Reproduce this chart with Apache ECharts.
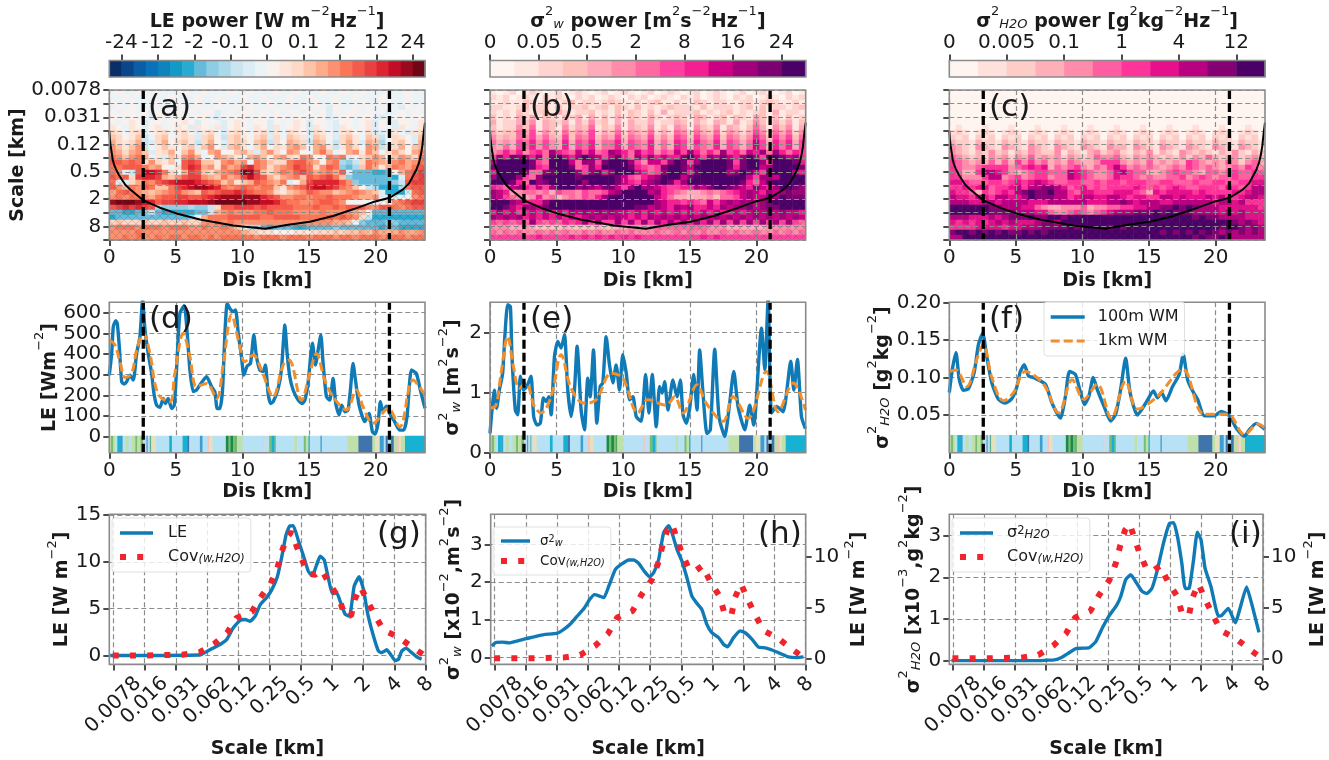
<!DOCTYPE html>
<html><head><meta charset="utf-8"><style>html,body{margin:0;background:#fff}#c{width:1329px;height:760px}</style>
<script src="https://cdn.jsdelivr.net/npm/echarts@6/dist/echarts.min.js"></script></head><body><div id="c"></div>
<script>
const colorsA=['#0a2f66','#09468a','#0a5ea6','#0a72b8','#0d84bd','#119ac6','#27abd0','#66bbdb','#8fcde5','#abd9ea','#c8e5f1','#dcedf5','#ecf3f7','#f9f1ee','#fee5d9','#fdd9c6','#fdc4a8','#fdac8a','#fb9170','#fb7557','#f45b4b','#e8413f','#dc2530','#c30d25','#9a0a1f','#6f0515'];
const colorsB=['#fff5f0','#ffe7e2','#ffd3cf','#ffc2ba','#ffaabb','#ff8cab','#ff6aa0','#ff42a0','#f41f92','#cc0085','#a00079','#7c0072','#4b0068'];
const colorsC=['#fff5f0','#ffe1dc','#ffcdc8','#ffafb7','#ff8cab','#ff5fa2','#ff349a','#e6108c','#b80080','#840073','#4b0068'];
const barTicksA=[[1,'-24'],[4,'-12'],[7,'-2'],[10,'-0.1'],[13,'0'],[16,'0.1'],[19,'2'],[22,'12'],[25,'24']];
const barTicksB=[[0,'0'],[2,'0.05'],[4,'0.5'],[6,'2'],[8,'8'],[10,'16'],[12,'24']];
const barTicksC=[[0,'0'],[2,'0.005'],[4,'0.1'],[6,'1'],[8,'4'],[10,'12']];
const heatYLabels=['0.0078','','0.031','','0.12','','0.5','','2','','8',''];
const scaleLabels=['0.0078','0.016','0.031','0.062','0.12','0.25','0.5','1','2','4','8'];

const heatA=[
"MNMMNMMNMMMNMMNMMMNMMNMMMNMMNMMMNMMNMMNMMMNMMNMM",
"MMNMMMNMMNMMMNMMNMMMNMMNMMMNMMNMMMNMMNMMMNMMMNMM",
"NMMNMMMNMMNMMNMMMNMMNMMMNMMNMMMNMMNMMMNMMNMMMNMM",
"MNMNMMNMNMMNMNMMNMMNMNMMNMNMMNMNMLNMMNMNMMNMLNMN",
"NMNNMNLNMNNMNMNNLMNMNNMNMNMNNMNMNLNMNNMNMNLMNMNM",
"NNMNNMLNNMNNMNNMLNMNNMNNMNNMNNMNNLMNNMNNMLMNNMNN",
"NMNONLNNMNNONLNNMLNONMNNLNMNONLNNMLNNMNOLNMLNNMO",
"ONMONLNOMNONLONMOLNONMONLOMNONLONMLONMNOLNMLONMO",
"POMOPLNOPMOPNLOPMLOPNMOPLOMPONLPOMLOPNMPLLNOMLOP",
"QPNOQKMPQNOPOLPQNKPQONPQLPMQPOLQPNLPQOMQPKMPONLQ",
"RPOPRKLPRNPQOKPRNLPQPMQRKPNRQPKRQMKPROLRQJMPQNLR",
"SQOQSKMOQONPQLQSNLQROMPRMPORSQMRSOKORPMSRKOPRNQR",
"SRPRSQLOPRNQSOMRSNNQRPLQSPNSRNMRTQMNRSOSQMPRPNRS",
"TSQSTRMOLQOSTRMNSRQOMRSQNRSPOTSNMTSTLMPQSRNQSRPT",
"UUTUTPSPOQMUVUQQOSTRSMTSQPPTUUSRNSTJIKPTSRQSTRST",
"TTUUUTRSNMPUWVRSOTRSVWTSPRSTVUTPSUTIHJQTRORTSRTU",
"TSLKUXXWTPNRVUQPRSTUZYVQPRTSUVTRSTRULHHHGGHNRTUV",
"UTUPVWWVRQSUVVSRQTRSVXVURPRSTQUTUVTQIHHHHHHGLTUV",
"TLLPRTSUVWXXXWVUTQSOQRUTSRTLNRVWWWWUSIHHHHHIKUVV",
"USQTSUTQQTVWXYYXWTSTUTSTTQOSTUWXXWVTSQNKJGGGJTUU",
"RTUTSRQRSTUSRQUTUVVWVUTTSPOQRSUTSSQRSTSRQLGGGLTU",
"STSTTSRTUUVVUUVWXYYYYYYWVUSSTTSTTUTTTSRRSLLLMNST",
"YZZZYXWUVVWWXXXYZZZZZYYXXWUTTSSTUUTSNMNMMNOSTUVV",
"UVWVWVUJIIIIJIIKPUUVVVUVUUUUTTTUTTUTUUUSSUUTSTUU",
"HHGGHIKHGGGGGHHKRSTSSSTTUTTTSSSSTSSSSRQNHHHHHHHH",
"GHHHHHHHHHHHIMRTTTUUUUUTTUUUUTTTTUTUTSPKGGGGGGGG",
"PQPPPQPPQPPQPPSSTSTSSSSSSSSSSSSSSSRRQMIHHHIIHHHH",
"STTTSTTTSTTTSSTSSTSQMJJHGHHHGGHHHHIHHHHHHGHHGGGG",
"SSSSTSSSSSSSSSSSSSSSRQPOONNNOOOPPPQPQQRQSRRRSRRS",
"SSTSTSSTSTTSTTSTSTTTTTSTTTSTTTSTTTSTTSTTTSTTTSTT"];
const heatB=[
"101201210120121012012101201210120121012012101201",
"212012102121021201210212012102120121021201210212",
"112113212112312212321121231121132122112212321121",
"221123122131223123132131212322213122212313122123",
"212132123142122312131321314122231212312123141221",
"312142413213241413141321421232143123132143131312",
"412243514324142523141422412243142143141253142413",
"312253614315243613251432513154153251431364153514",
"423364725326354724362543624265264362542475264625",
"534365746437365735473654735376375473653586375736",
"645476857548476846684765846487486584764697486847",
"546476857548476846684765846487476584764697486847",
"568685786a87697967a98697857697a8686a78698a6a8687",
"7a8ba98a6bc98aca979b86a8a8988bc97a9b98aca7bcb9a7",
"9cccccb76ccc96aa7bccca75997acb7accccb7bcca7cccb8",
"bcccccb87cccb67a8ccccb8767bccb9cccccb8bcc9accccb",
"8cccca66abccca7ab8accc9867accb8bcccc9acb97bccc98",
"accca76acccccbcccccb97689accc9bcccccccc97aa9cccc",
"cccb86cabcccccaccccb9879abcb8accccccccb869bccccc",
"8769a8797acccaba9bb97acaa987788a9bccba98b98accba",
"a984566564766576679acccc9a8765445656789a98a9abaa",
"a9765458563565768accccccc98644344536679a99aacbbb",
"ccca9888acccccccccccccccca9887876979a9aa9abccccc",
"ccb98aa9bcccccccccccccbb9a98a9a8898a9aab9abbcccc",
"8a8978989898a9a9a9a998989898989898988989a9a9a998",
"a9a9a8989898989a9a9a9898a9a9a9a9a9a9a9a9a9a9a9a9",
"767676a7676878a7a77a7a7a7a8a8a8a8a7a7a7a7a7a7a76",
"555445433334333343344555566666666555444444555555",
"656565565656556565565655565565656556565565565656",
"777777787777878787878787777777778787777777777777"];
const heatC=[
"000000000000000000000000000000000000000000000000",
"000000000000000000000000000000000000000000000000",
"000000000000000000000000000000000000000000000000",
"000000000000000000000000000000000000000000000000",
"000000000000000000000000000000000000000000000000",
"000000000000000000000000000000000000000000000000",
"000000000000000000000000000000000000000000000000",
"010001000100010001000100010001000100010001000100",
"121012101210121012101210121012101210121012101210",
"212021202120212021202120212021202120212021202120",
"322132213221322132213221322132213221322132213221",
"432143214321432143214321433143214321432143214321",
"432132423132432241321342342132413214323213242132",
"543232434243534342432354453243432324243532342343",
"654343535364645343543346664343534343654343542453",
"654456666456767354564354686454543454654543454654",
"653368876434566555876544578655334565543554565565",
"664446884564566455876544576654544556456545565566",
"776555665676787655665565665666556655565566556677",
"667677566786889987567565666676565676556665765688",
"766536567689a99a88657766677765376777767666676788",
"877687688778a99988678877887677668878777878667887",
"888778878888777888888777889878887788888878878666",
"aaaaaa9988877543344453445566778899a9a98887777776",
"aaaaaa9999888775445654567888999a9a99988887878777",
"888777878999a99aa9aaaaaaaaaaaaaaaaaaa9a998888777",
"76767678787778998aaaaaaaaaaaaaaaaaaaaaaaaaa98987",
"666677776778889999a9aaaa9a9aaaaaaaaaaaaaa9aa9898",
"9aa9a9a9a99a9a9aaaaaaaaaaaaaaaaa9a9a9a9a98989898",
"88aaaaaaaaaaaaaaaaaaaaaaaaaaaaaaaaaaa9a99a988888"];

const coiCurve=[[0,3.0],[.04,3.6],[.1,4.1],[.18,4.6],[.25,5.07],[.35,5.45],[.5,5.8],[.7,6.2],[.93,6.55],[1.2,6.95],[1.55,7.28],[2.55,8.09],[3.8,8.63],[5.05,9.05],[6.8,9.49],[9.3,9.93],[11.7,10.17],[13.3,9.9],[15.05,9.66],[16.8,9.24],[18.3,8.75],[19.8,8.22],[21.05,7.9],[22.05,7.29],[22.5,6.85],[22.8,6.31],[23.05,5.85],[23.25,5.33],[23.4,4.7],[23.5,4.1],[23.55,3.6],[23.62,3.0],[23.7,2.4]];
const boundsKm=[2.55,21.03];

const leBlue=[[0,298],[.18,403],[.3,532],[.48,561],[.6,548],[.75,435],[.93,266],[1.1,255],[1.3,266],[1.55,298],[1.8,274],[2.05,403],[2.3,484],[2.5,665],[2.68,515],[2.92,403],[3.18,306],[3.35,210],[3.55,153],[3.8,142],[4.05,185],[4.22,161],[4.42,185],[4.68,137],[4.88,153],[5.1,387],[5.3,597],[5.62,634],[5.85,500],[6.05,323],[6.3,218],[6.55,226],[6.8,250],[7.3,290],[7.68,242],[7.92,218],[8.1,137],[8.3,137],[8.5,226],[8.68,500],[8.85,645],[9.05,620],[9.3,605],[9.48,613],[9.68,500],[9.92,387],[10.1,298],[10.35,342],[10.6,355],[10.85,492],[11.05,387],[11.3,323],[11.55,315],[11.72,347],[11.92,210],[12.1,161],[12.3,169],[12.68,234],[12.92,323],[13.18,540],[13.35,403],[13.55,290],[13.8,226],[14.18,177],[14.48,161],[14.68,177],[14.92,258],[15.25,452],[15.48,347],[15.68,420],[15.88,492],[16.05,355],[16.3,194],[16.55,177],[16.8,282],[17,161],[17.25,105],[17.45,153],[17.68,121],[17.92,129],[18.1,226],[18.3,355],[18.48,274],[18.75,153],[19.18,73],[19.5,113],[19.75,24],[19.95,13],[20.18,65],[20.35,169],[20.55,121],[20.8,148],[21.05,113],[21.42,73],[21.8,32],[22.1,32],[22.35,97],[22.68,323],[23.05,306],[23.35,226],[23.7,137]];
const leOrange=[[0,468],[.42,444],[.8,363],[1.18,287],[1.68,306],[2.05,419],[2.55,500],[3.05,403],[3.42,258],[3.8,194],[4.55,169],[4.92,306],[5.55,500],[6.05,387],[6.55,242],[7.3,258],[8.05,185],[8.55,347],[9.18,590],[9.8,435],[10.18,363],[10.8,395],[11.42,323],[12.3,194],[13.05,347],[13.5,371],[14.42,177],[15.05,306],[15.55,403],[16.18,274],[16.8,194],[17.8,129],[18.55,226],[19.05,145],[19.8,65],[20.92,137],[21.8,48],[22.8,274],[23.7,202]];
const wBlue=[[0,.32],[.15,.71],[.33,1.04],[.5,.74],[.7,1.04],[.95,1.32],[1.13,1.99],[1.33,2.46],[1.53,2.43],[1.65,1.6],[1.9,.71],[2.08,.63],[2.28,1.27],[2.5,1.04],[2.76,1.1],[3.08,1.27],[3.28,.6],[3.53,.46],[3.78,.49],[4.01,.91],[4.21,.85],[4.41,.93],[4.59,.63],[4.84,1.6],[5.09,1.85],[5.34,1.74],[5.59,1.96],[5.84,1.04],[6.09,.6],[6.34,1.04],[6.54,1.77],[6.84,.71],[7.09,.38],[7.34,1.24],[7.52,.93],[7.77,1.71],[8.02,.49],[8.27,1.1],[8.47,1.16],[8.72,1.93],[8.97,1.46],[9.22,1.16],[9.47,1.46],[9.72,1.04],[9.97,1.63],[10.23,1.32],[10.48,.88],[10.73,.93],[10.98,.6],[11.35,.52],[11.68,1.3],[11.93,.66],[12.18,1.3],[12.48,.43],[12.73,1.1],[12.93,.99],[13.11,1.18],[13.36,.71],[13.73,1.21],[14.04,.93],[14.29,1.21],[14.49,.63],[14.74,.49],[14.99,.74],[15.29,1.3],[15.54,.71],[15.74,1.71],[15.99,.99],[16.29,.32],[16.54,.38],[16.87,1.72],[17.19,.6],[17.62,.27],[17.99,.82],[18.3,1.35],[18.62,.77],[19.12,.38],[19.5,.79],[19.8,.46],[20.38,2.07],[20.63,1.38],[20.88,2.55],[21.13,.66],[21.5,.77],[22,.68],[22.58,1.52],[22.81,1.04],[23.08,1.55],[23.38,.6],[23.68,.4]];
const wOrange=[[0,.74],[.45,.79],[.83,1.32],[1.33,1.93],[1.76,1.43],[2.2,1.07],[2.7,1.16],[3.33,.77],[3.83,.66],[4.59,.93],[5.34,1.63],[6.09,1.07],[7.09,.82],[7.97,.88],[9.1,1.32],[9.97,1.24],[11.1,.66],[11.85,.88],[13.23,.79],[13.86,.93],[14.49,.66],[15.54,1.13],[16.24,.82],[17.5,.52],[18.25,.93],[19.37,.57],[20.75,1.35],[21.63,.68],[22.76,1.16],[23.68,.71]];
const qBlue=[[0,.08],[.23,.111],[.5,.133],[.75,.097],[1.06,.083],[1.43,.085],[1.86,.106],[2.19,.144],[2.51,.159],[2.81,.128],[3.19,.093],[3.69,.071],[4.2,.066],[4.7,.072],[5.08,.088],[5.33,.108],[5.63,.117],[5.95,.102],[6.33,.1],[7.21,.091],[7.71,.066],[8.34,.046],[8.72,.075],[9.02,.108],[9.47,.104],[9.85,.08],[10.15,.064],[10.48,.075],[10.8,.1],[11.11,.084],[11.61,.062],[12.11,.042],[12.49,.051],[12.86,.084],[13.24,.126],[13.57,.08],[14.12,.05],[14.75,.066],[15.33,.082],[15.63,.073],[15.93,.08],[16.26,.069],[16.76,.088],[17.26,.104],[17.56,.131],[17.89,.097],[18.27,.082],[18.64,.071],[19.15,.049],[19.9,.049],[20.4,.055],[21.03,.049],[21.53,.033],[22.16,.022],[22.54,.031],[23.04,.039],[23.7,.031]];
const qOrange=[[0,.108],[.5,.11],[1.31,.088],[2.06,.124],[2.56,.144],[3.19,.1],[4.07,.069],[4.82,.08],[5.7,.108],[7.08,.091],[8.21,.053],[9.22,.097],[10.1,.071],[11.11,.091],[12.16,.046],[13.24,.095],[14.12,.058],[15.63,.075],[17.51,.111],[19.15,.051],[20.9,.051],[22.16,.024],[23.16,.038],[23.7,.033]];

const stripColors={L:'#b7e1f5',g:'#79bd71',p:'#bfe0a8',b:'#3c9ed1',d:'#3f74ad',t:'#17b1d1',D:'#1a8a48',k:'#f2c4c0',y:'#e8e0bd'};
const stripStart=[0,.12,.3,.45,.6,.85,1,1.2,1.45,1.7,1.95,2.1,2.35,2.55,2.8,2.87,3.05,3.1,3.2,3.5,4.5,4.7,5.5,5.85,6,6.8,7,7.35,7.5,7.75,8.75,8.95,9.1,9.3,9.5,9.55,10,11.55,11.65,12,12.2,12.4,12.5,13.9,14.1,14.6,14.75,14.95,15.05,15.85,15.95,17.9,18.7,19.75,19.95,20.3,20.6,20.75,20.9,21.15,21.35,21.6,21.75,21.9,22.2];
const stripKind="pgpLtbLpLpgpgLdLDLyLtLtdLbLkyLDgDgDpLkLgtgLpLgptLbLpdpybLdLdpkypt";
const stripEnd=23.7;

const leScale=[[-.1,0],[2.77,.05],[2.98,.4],[3.2,.8],[3.42,1.17],[3.63,1.7],[3.84,2.95],[4.06,3.75],[4.22,3.83],[4.38,3.65],[4.54,4.2],[4.7,5.4],[4.91,6.2],[5.07,7],[5.25,8.4],[5.39,10.5],[5.53,12.9],[5.64,13.8],[5.76,13.85],[5.92,12.3],[6.08,10.7],[6.24,9],[6.37,8.5],[6.51,9.7],[6.62,10.6],[6.75,10.2],[6.88,8.3],[7.01,6.6],[7.15,6.7],[7.28,5.6],[7.42,4.4],[7.56,4.2],[7.71,7.4],[7.87,8.4],[8.01,7],[8.14,4.5],[8.33,2.05],[8.49,.45],[8.6,.3],[8.75,.6],[8.88,.1],[9.02,-.55],[9.13,-.4],[9.23,.45],[9.37,.78],[9.55,.3],[9.71,-.15],[9.87,-.4]];
const covScale=[[-.02,0],[.53,0],[1.1,0],[1.64,.04],[2.2,.07],[2.75,.32],[3.23,1.24],[3.64,2.41],[3.94,4],[4.43,4.64],[4.71,6.2],[5.04,7.66],[5.25,9.33],[5.4,11.14],[5.55,12.6],[5.7,13.2],[5.82,12.1],[6.01,10.4],[6.24,8.8],[6.46,8.6],[6.68,9.1],[6.92,7.6],[7.23,6.1],[7.39,4.4],[7.61,4.22],[7.73,6],[7.92,7.3],[8.15,5.7],[8.39,4.2],[8.65,2.7],[9.1,2],[9.56,.9],[9.96,0]];
const wScale=[[-.1,.31],[.03,.4],[.25,.41],[.46,.39],[.67,.43],[.94,.49],[1.26,.55],[1.58,.61],[2.01,.65],[2.22,.75],[2.44,.9],[2.65,1.1],[2.87,1.3],[3.05,1.54],[3.21,1.67],[3.35,1.64],[3.51,1.59],[3.67,1.9],[3.88,2.34],[4.1,2.49],[4.31,2.59],[4.47,2.59],[4.63,2.5],[4.81,2.29],[4.98,2.14],[5.11,2.25],[5.27,2.6],[5.43,3.31],[5.59,3.5],[5.7,3.31],[5.86,2.87],[6.02,2.56],[6.18,2.12],[6.34,1.63],[6.5,1.44],[6.66,1.28],[6.82,.88],[6.98,.66],[7.2,.53],[7.36,.35],[7.49,.29],[7.68,.53],[7.89,.71],[8.05,.66],[8.27,.49],[8.48,.28],[8.7,.26],[8.96,.19],[9.18,.11],[9.44,.02],[9.71,0],[9.93,.02]];
const qScale=[[-.05,0],[2.8,0],[3,.01],[3.27,.02],[3.48,.07],[3.7,.17],[3.96,.29],[4.18,.3],[4.39,.31],[4.6,.45],[4.82,.79],[5.03,1.07],[5.27,1.32],[5.41,1.54],[5.57,1.94],[5.73,2.06],[5.89,1.9],[6.1,1.66],[6.26,1.61],[6.42,1.74],[6.58,2.14],[6.79,2.82],[6.98,3.29],[7.12,3.31],[7.24,2.98],[7.38,2.34],[7.49,1.73],[7.62,1.74],[7.76,2.42],[7.88,3.08],[8,2.9],[8.13,2.22],[8.32,1.78],[8.56,1.07],[8.66,1.08],[8.88,1.25],[9.11,.91],[9.25,1.23],[9.47,1.77],[9.63,1.38],[9.87,.68]];

const FF='DejaVu Sans', TXT='#1a1a1a', BLUE='#0f7ab5', ORANGE='#f28e2b', RED='#f0242c';
const grid=[],xAxis=[],yAxis=[],series=[],visualMap=[],graphic=[],legend=[];
const tickStyle={length:6,lineStyle:{color:'#111',width:1.5}};
const labelStyle={fontFamily:FF,fontSize:20,color:TXT};
const gridLine={show:true,lineStyle:{color:'#8c8c8c',type:[5,3],width:1.2}};
const richSet=(n=19)=>({
 b:{fontFamily:FF,fontSize:n,fontWeight:'bold',color:TXT,lineHeight:n+7,verticalAlign:'bottom'},
 s:{fontFamily:FF,fontSize:Math.round(n*.7),fontWeight:'normal',color:TXT,verticalAlign:'top',lineHeight:n+7},
 i:{fontFamily:FF,fontSize:Math.round(n*.7),fontWeight:'normal',fontStyle:'italic',color:TXT,verticalAlign:'bottom',lineHeight:n+5}});
const nameStyle=()=>({fontFamily:FF,fontSize:19,fontWeight:'bold',color:TXT,rich:richSet()});

function addGrid(r,xa,ya){
 const i=grid.length;
 grid.push({left:r[0],top:r[1],width:r[2],height:r[3],containLabel:false});
 xAxis.push(Object.assign({gridIndex:i,axisLine:{show:false,onZero:false},axisTick:tickStyle,splitLine:{show:false}},xa));
 yAxis.push(Object.assign({gridIndex:i,axisLine:{show:false,onZero:false},axisTick:tickStyle,splitLine:{show:false}},ya));
 return {g:i,x:xAxis.length-1,y:yAxis.length-1};
}
const onAx=a=>({xAxisIndex:a.x,yAxisIndex:a.y,coordinateSystem:'cartesian2d'});
function frame(a){series.push(Object.assign({type:'custom',silent:true,z:9,data:[[0,0]],renderItem:(p)=>({type:'rect',shape:{x:p.coordSys.x,y:p.coordSys.y,width:p.coordSys.width,height:p.coordSys.height},style:{fill:'none',stroke:'#8a8a8a',lineWidth:1.6}})},onAx(a)));}
function bounds(a,lo,hi){boundsKm.forEach(k=>series.push(Object.assign({type:'line',silent:true,symbol:'none',z:8,data:[[k,lo],[k,hi]],lineStyle:{color:'#000',width:3.3,type:[9,4]}},onAx(a))));}
function letter(t,x,y){graphic.push({type:'text',z:20,left:x,top:y-20,style:{text:t,fontFamily:FF,fontSize:31,fill:TXT}});}

const hatch=document.createElement('canvas');hatch.width=hatch.height=8;
{const c=hatch.getContext('2d');c.strokeStyle='rgba(70,70,70,.36)';c.lineWidth=.6;c.beginPath();c.moveTo(0,0);c.lineTo(8,8);c.moveTo(8,0);c.lineTo(0,8);c.stroke();}

function colorBar(r,colors,ticks,title){
 const a=addGrid(r,{type:'value',position:'top',min:0,max:colors.length,name:title,nameLocation:'middle',nameGap:26,nameTextStyle:nameStyle(),
   axisTick:Object.assign({customValues:ticks.map(t=>t[0])},tickStyle),
   axisLabel:{customValues:ticks.map(t=>t[0]),margin:8,formatter:v=>(ticks.find(t=>t[0]===v)||[0,''])[1],...labelStyle,showMinLabel:true,showMaxLabel:true}},
  {type:'value',min:0,max:1,axisTick:{show:false},axisLabel:{show:false}});
 series.push(Object.assign({type:'custom',silent:true,z:2,data:colors.map((c,i)=>[i,0]),renderItem:(p,api)=>{
   const i=api.value(0),s=api.coord([i,1]),e=api.coord([i+1,0]);
   return {type:'rect',shape:{x:s[0],y:s[1],width:e[0]-s[0]+.5,height:e[1]-s[1]},style:{fill:colors[i]}};}},onAx(a)));
 frame(a);
}
function heatPanel(r,rows,colors,parse,showY){
 const nx=48,ny=rows.length;
 const cats=n=>Array.from({length:n},(_,i)=>i);
 const h=addGrid(r,{type:'category',data:cats(nx),show:false},{type:'category',data:cats(ny),inverse:true,show:false});
 const data=[];rows.forEach((s,j)=>{for(let i=0;i<nx;i++){const ch=s[Math.min(i,s.length-1)];data.push([i,j,parse(ch)]);}});
 const si=series.length;
 series.push(Object.assign({type:'heatmap',silent:true,z:1,data,progressive:0,itemStyle:{borderWidth:0}},onAx(h)));
 visualMap.push({type:'piecewise',show:false,seriesIndex:si,dimension:2,pieces:colors.map((c,i)=>({value:i,color:c}))});
 const oct=heatYLabels.map((_,i)=>i).concat([11]);
 const a=addGrid(r,{type:'value',min:0,max:23.7,z:5,name:'Dis [km]',nameLocation:'middle',nameGap:32,nameTextStyle:nameStyle(),
    axisTick:Object.assign({customValues:[0,5,10,15,20]},tickStyle),splitLine:gridLine,
    axisLabel:{customValues:[0,5,10,15,20],margin:8,...labelStyle}},
   {type:'value',min:0,max:11,inverse:true,z:5,axisTick:Object.assign({customValues:oct},tickStyle),splitLine:gridLine,
    name:showY?'Scale [km]':'',nameLocation:'middle',nameGap:80,nameRotate:90,nameTextStyle:nameStyle(),
    axisLabel:{show:showY,customValues:oct,margin:8,formatter:v=>heatYLabels[v]||'',...labelStyle}});
 series.push(Object.assign({type:'line',silent:true,symbol:'none',z:6,data:coiCurve,lineStyle:{color:'#000',width:2},areaStyle:{origin:'end',opacity:1,color:{image:hatch,repeat:'repeat'}}},onAx(a)));
 bounds(a,0,11);frame(a);
}
function linePanel(r,ymin,ymax,ticks,fmt,yname,gap,blue,orange,stripTop){
 const a=addGrid(r,{type:'value',min:0,max:23.7,name:'Dis [km]',nameLocation:'middle',nameGap:30,nameTextStyle:nameStyle(),
    axisTick:Object.assign({customValues:[0,5,10,15,20]},tickStyle),splitLine:gridLine,
    axisLabel:{customValues:[0,5,10,15,20],margin:8,...labelStyle}},
   {type:'value',min:ymin,max:ymax,name:yname,nameLocation:'middle',nameGap:gap,nameRotate:90,nameTextStyle:nameStyle(),
    axisTick:Object.assign({customValues:ticks},tickStyle),splitLine:gridLine,
    axisLabel:{customValues:ticks,margin:8,formatter:fmt,...labelStyle}});
 const kinds=stripStart.map((s,i)=>[s,i<stripStart.length-1?stripStart[i+1]:stripEnd,stripKind.charCodeAt(i)]);
 series.push(Object.assign({type:'custom',silent:true,z:1,data:kinds,renderItem:(p,api)=>{
   const s=api.coord([api.value(0),stripTop]),e=api.coord([api.value(1),ymin]);
   return {type:'rect',shape:{x:s[0],y:s[1],width:e[0]-s[0]+.4,height:e[1]-s[1]},style:{fill:stripColors[String.fromCharCode(api.value(2))]}};}},onAx(a)));
 series.push(Object.assign({type:'line',name:'100m WM',silent:true,symbol:'none',z:4,smooth:.2,data:blue,itemStyle:{color:BLUE},lineStyle:{color:BLUE,width:3.4}},onAx(a)));
 series.push(Object.assign({type:'line',name:'1km WM',silent:true,symbol:'none',z:5,smooth:.35,data:orange,itemStyle:{color:ORANGE},lineStyle:{color:ORANGE,width:3,type:[9,4]}},onAx(a)));
 bounds(a,ymin,ymax);frame(a);
}
const measure=(()=>{const c=document.createElement('canvas').getContext('2d');c.font='20px "DejaVu Sans"';return t=>c.measureText(t).width;})();
const scaleRich={};scaleLabels.forEach((t,i)=>{const w=measure(t);scaleRich['r'+i]={fontFamily:FF,fontSize:20,color:TXT,padding:[w*.5,w*.5,0,0]};});
function scalePanel(r,ymin,ymax,ticks,yname,gap,name,curve,rightGap){
 const oct=scaleLabels.map((_,i)=>i);
 const a=addGrid(r,{type:'value',min:r[4],max:10,name:'Scale [km]',nameLocation:'middle',nameGap:74,nameTextStyle:nameStyle(),
    axisTick:Object.assign({customValues:oct},tickStyle),splitLine:gridLine,
    axisLabel:{customValues:[r[4]].concat(oct),rotate:45,align:'center',verticalAlign:'middle',margin:16,showMinLabel:false,showMaxLabel:true,formatter:v=>scaleLabels[v]?`{r${v}|${scaleLabels[v]}}`:'',rich:scaleRich,...labelStyle}},
   {type:'value',min:ymin,max:ymax,name:yname,nameLocation:'middle',nameGap:gap,nameRotate:90,nameTextStyle:nameStyle(),
    axisTick:Object.assign({customValues:ticks},tickStyle),splitLine:gridLine,
    axisLabel:{customValues:ticks,margin:8,...labelStyle}});
 series.push(Object.assign({type:'line',name,silent:true,symbol:'none',z:4,smooth:.15,data:curve,itemStyle:{color:BLUE},lineStyle:{color:BLUE,width:3.4}},onAx(a)));
 let covAx=a;
 if(rightGap){
  yAxis.push({gridIndex:a.g,type:'value',position:'right',min:-.6,max:14.15,name:'{b|LE [W m}{s|−2}{b|]}',nameLocation:'middle',nameGap:rightGap,nameRotate:90,nameTextStyle:nameStyle(),
    axisLine:{show:false,onZero:false},splitLine:{show:false},axisTick:Object.assign({customValues:[0,5,10]},tickStyle),
    axisLabel:{customValues:[0,5,10],margin:8,...labelStyle}});
  covAx={g:a.g,x:a.x,y:yAxis.length-1};
 }
 series.push(Object.assign({type:'line',name:'Cov',silent:true,symbol:'none',z:5,data:covScale,itemStyle:{color:RED},lineStyle:{color:RED,width:6,type:[6,11.2]}},onAx(covAx)));
 frame(a);
}
const legendNames={'LE':'{a|LE}','Cov':'{a|Cov}{c|(w,H2O)}','σw':'{a|σ}{d|2}{c|w}','σq':'{a|σ}{d|2}{c|H2O}','100m WM':'{a|100m WM}','1km WM':'{a|1km WM}'};
const legendLines={'LE':{color:BLUE,width:3.4},'σw':{color:BLUE,width:3.4},'σq':{color:BLUE,width:3.4},'100m WM':{color:BLUE,width:3.4},'1km WM':{color:ORANGE,width:3,type:[9,4]},'Cov':{color:RED,width:6,type:[6,11.2]}};
function addLegend(l,t,names,fs,sample,gap,lead){
 legend.push({left:l,top:t,orient:'vertical',data:names.map(n=>({name:n,lineStyle:legendLines[n]})),itemStyle:{opacity:0},itemWidth:sample,itemHeight:fs,itemGap:gap,padding:[7,6,7,5],selectedMode:false,z:12,
  backgroundColor:'rgba(255,255,255,.8)',borderColor:'#e0e0e0',borderWidth:1,borderRadius:3,
  formatter:n=>legendNames[n],
  textStyle:{fontFamily:FF,fontSize:fs,color:TXT,rich:{a:{fontFamily:FF,fontSize:fs,color:TXT,padding:[0,0,0,lead]},c:{fontFamily:FF,fontSize:fs*.72,fontStyle:'italic',color:TXT,verticalAlign:'bottom'},d:{fontFamily:FF,fontSize:fs*.72,color:TXT,verticalAlign:'top'}}}});
}

const X=[109.3,490,949.3],W=315.7;
colorBar([X[0],60.5,W,16.5],colorsA,barTicksA,'{b|LE power [W m}{s|−2}{b|Hz}{s|−1}{b|]}');
colorBar([X[1],60.5,W,16.5],colorsB,barTicksB,'{b|σ}{s|2}{i|w}{b| power [m}{s|2}{b|s}{s|−2}{b|Hz}{s|−1}{b|]}');
colorBar([X[2],60.5,W,16.5],colorsC,barTicksC,'{b|σ}{s|2}{i|H2O}{b| power [g}{s|2}{b|kg}{s|−2}{b|Hz}{s|−1}{b|]}');
heatPanel([X[0],90,W,150],heatA,colorsA,c=>c.charCodeAt(0)-65,true);
heatPanel([X[1],90,W,150],heatB,colorsB,c=>parseInt(c,16),false);
heatPanel([X[2],90,W,150],heatC,colorsC,c=>parseInt(c,16),false);
linePanel([X[0],302.3,W,150.4],-77,650,[0,100,200,300,400,500,600],v=>v,'{b|LE [Wm}{s|−2}{b|]}',49,leBlue,leOrange,5);
linePanel([X[1],302.3,W,150.4],0,2.5,[0,1,2],v=>v,'{b|σ}{s|2}{i|w}{b| [m}{s|2}{b|s}{s|−2}{b|]}',27,wBlue,wOrange,.29);
linePanel([X[2],302.3,W,150.4],0,.2,[.05,.1,.15,.2],v=>v.toFixed(2),'{b|σ}{s|2}{i|H2O}{b| [g}{s|2}{b|kg}{s|−2}{b|]}',57,qBlue,qOrange,.0235);
scalePanel([X[0],514.3,316.4,150.7,-.13],-.96,15.07,[0,5,10,15],'{b|LE [W m}{s|−2}{b|]}',34,'LE',leScale,0);
scalePanel([490.7,514.3,315,150.7,-.13],-.18,3.8,[0,1,2,3],'{b|σ}{s|2}{i|w}{b| [x10}{s|−2}{b|,m}{s|2}{b|s}{s|−2}{b|]}',27,'σw',wScale,35);
scalePanel([X[2],514.3,315.7,150.7,-.12],-.09,3.51,[0,1,2,3],'{b|σ}{s|2}{i|H2O}{b| [x10}{s|−3}{b|,g}{s|2}{b|kg}{s|−2}{b|]}',26,'σq',qScale,39);

addLegend(1044,302,['100m WM','1km WM'],16,34,8,8);
addLegend(112,518,['LE','Cov'],16,33,8,10);
addLegend(493,527,['σw','Cov'],13.5,29,6,5);
addLegend(952,518,['σq','Cov'],16,33,8,9);
[['(a)',148,112],['(b)',530,112],['(c)',989,112],['(d)',149,324],['(e)',530,324],['(f)',989,324],['(g)',377,539],['(h)',758,539],['(i)',1229,539]].forEach(l=>letter(...l));

const chart=echarts.init(document.getElementById('c'),null,{renderer:'canvas'});
chart.setOption({animation:false,backgroundColor:'#fff',grid,xAxis,yAxis,series,visualMap,legend,graphic:{elements:graphic},tooltip:{show:false}});
</script></body></html>
